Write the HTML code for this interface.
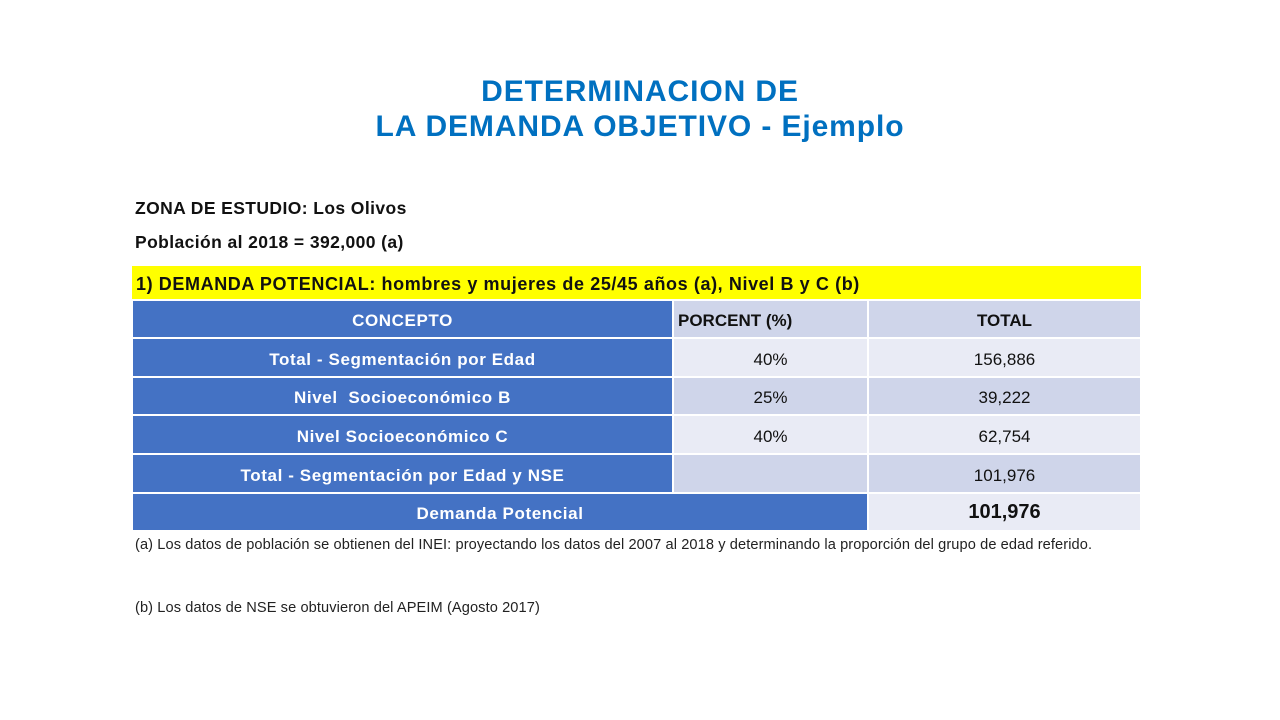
<!DOCTYPE html>
<html><head><meta charset="utf-8"><style>
body{margin:0;width:1280px;height:720px;background:#fff;font-family:"Liberation Sans",sans-serif;position:relative;overflow:hidden}
.t{position:absolute;left:0;width:1280px;text-align:center;color:#0070c0;font-weight:bold;font-size:30px;letter-spacing:0.9px;line-height:35px}
.p{position:absolute;left:135px;font-size:17.5px;letter-spacing:0.4px;font-weight:bold;color:#111}
table{position:absolute;left:131px;top:266px;width:1009px;border-collapse:collapse;font-size:17px;table-layout:fixed}
td{border:2px solid #fff;padding:4px 0 0 0;text-align:center;color:#111}
.b{background:#4472c4;color:#fff;font-weight:bold;letter-spacing:0.6px}
.l{background:#e9ebf5}.d{background:#cfd5ea}
.n{position:absolute;left:135px;font-size:14.6px;color:#222;line-height:26px;width:1008px;letter-spacing:0.1px}
</style></head><body>
<div class="t" style="top:74px">DETERMINACION DE<br>LA DEMANDA OBJETIVO - Ejemplo</div>
<div class="p" style="top:198px">ZONA DE ESTUDIO: Los Olivos</div>
<div class="p" style="top:232px">Población al 2018 = 392,000 (a)</div>
<table>
<colgroup><col style="width:541px"><col style="width:195px"><col style="width:273px"></colgroup>
<tr style="height:34px"><td colspan="3" style="background:#ffff00;text-align:left;padding-left:4px;font-weight:bold;border:none;font-size:18px;letter-spacing:0.6px">1) DEMANDA POTENCIAL: hombres y mujeres de 25/45 años (a), Nivel B y C (b)</td></tr>
<tr style="height:38px"><td class="b">CONCEPTO</td><td class="d" style="text-align:left;font-weight:bold;padding-left:4px">PORCENT (%)</td><td class="d" style="font-weight:bold">TOTAL</td></tr>
<tr style="height:39px"><td class="b">Total - Segmentación por Edad</td><td class="l">40%</td><td class="l">156,886</td></tr>
<tr style="height:38px"><td class="b">Nivel&nbsp; Socioeconómico B</td><td class="d">25%</td><td class="d">39,222</td></tr>
<tr style="height:39px"><td class="b">Nivel Socioeconómico C</td><td class="l">40%</td><td class="l">62,754</td></tr>
<tr style="height:39px"><td class="b">Total - Segmentación por Edad y NSE</td><td class="d"></td><td class="d">101,976</td></tr>
<tr style="height:38px"><td class="b" colspan="2">Demanda Potencial</td><td class="l" style="font-weight:bold;font-size:20px;padding-top:0">101,976</td></tr>
</table>
<div class="n" style="top:532px">(a) Los datos de población se obtienen del INEI: proyectando los datos del 2007 al 2018 y determinando la proporción del grupo de edad referido.</div>
<div class="n" style="top:595px">(b) Los datos de NSE se obtuvieron del APEIM (Agosto 2017)</div>
</body></html>
